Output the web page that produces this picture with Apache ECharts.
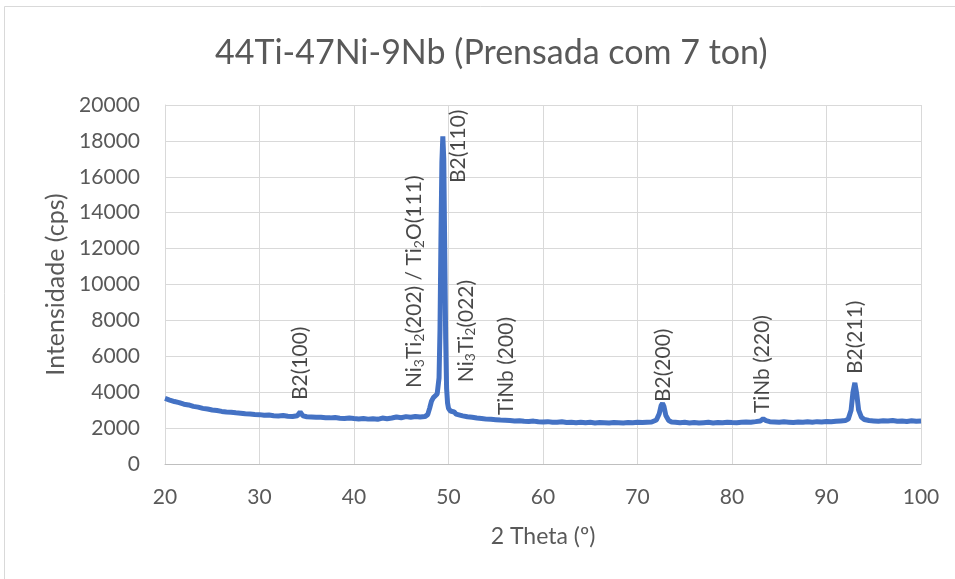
<!DOCTYPE html>
<html>
<head>
<meta charset="utf-8">
<script src="https://cdn.jsdelivr.net/npm/echarts@6/dist/echarts.min.js"></script>
<style>html,body{margin:0;padding:0;background:#fff}#c{width:955px;height:579px}</style>
</head>
<body>
<div id="c"></div>
<script>
var titleText = '44Ti-47Ni-9Nb (Prensada com 7 ton)';
var xName = '2 Theta (º)';
var yName = 'Intensidade (cps)';

var twoTheta = [
20.0,20.5,21.0,21.5,22.0,22.5,23.0,23.5,24.0,24.5,25.0,25.5,26.0,26.5,27.0,27.5,28.0,28.5,29.0,29.5,
30.0,30.5,31.0,31.5,32.0,32.5,33.0,33.5,34.0,34.3,34.6,35.0,35.5,36.0,36.5,37.0,37.5,38.0,38.5,39.0,39.5,
40.0,40.5,41.0,41.5,42.0,42.5,43.0,43.5,44.0,44.5,45.0,45.5,46.0,46.5,47.0,47.5,47.8,48.0,48.2,48.4,48.6,48.8,
49.0,49.1,49.2,49.3,49.4,49.5,49.6,49.7,49.8,49.9,50.0,50.2,50.4,50.6,50.8,51.0,51.5,52.0,52.5,53.0,53.5,54.0,54.5,
55.0,55.5,56.0,56.5,57.0,57.5,58.0,58.5,59.0,59.5,60.0,60.5,61.0,61.5,62.0,62.5,63.0,63.5,64.0,64.5,65.0,65.5,
66.0,66.5,67.0,67.5,68.0,68.5,69.0,69.5,70.0,70.5,71.0,71.5,72.0,72.3,72.5,72.65,72.8,73.0,73.3,73.6,74.0,74.5,
75.0,75.5,76.0,76.5,77.0,77.5,78.0,78.5,79.0,79.5,80.0,80.5,81.0,81.5,82.0,82.5,83.0,83.3,83.6,84.0,84.5,
85.0,85.5,86.0,86.5,87.0,87.5,88.0,88.5,89.0,89.5,90.0,90.5,91.0,91.5,92.0,92.3,92.6,92.8,93.0,93.2,93.4,93.7,
94.0,94.5,95.0,95.5,96.0,96.5,97.0,97.5,98.0,98.5,99.0,99.5,100.0
];
var intensity = [
3650,3560,3480,3420,3330,3290,3210,3170,3100,3060,3010,2980,2930,2900,2880,2850,2830,2800,2790,2760,
2750,2720,2730,2690,2680,2700,2660,2650,2690,2900,2680,2630,2620,2600,2610,2580,2570,2590,2550,2540,2560,
2530,2510,2530,2500,2520,2490,2560,2520,2560,2620,2580,2640,2600,2650,2620,2640,2750,3100,3500,3700,3750,3900,
4800,7500,12500,16800,18250,17000,12000,7000,4200,3400,3100,2950,3000,2900,2780,2750,2680,2630,2600,2560,2540,2500,2490,
2470,2450,2440,2420,2400,2410,2380,2370,2390,2350,2340,2360,2330,2320,2350,2310,2320,2300,2330,2300,2320,2290,
2310,2300,2280,2310,2300,2290,2310,2300,2320,2310,2330,2340,2450,2800,3250,3380,3200,2700,2420,2340,2330,2300,
2320,2290,2310,2280,2300,2320,2290,2310,2300,2330,2310,2300,2320,2340,2330,2360,2400,2520,2420,2360,2340,
2320,2350,2330,2310,2340,2320,2350,2330,2360,2340,2370,2350,2380,2400,2420,2500,3000,4000,4520,3900,3000,2600,
2480,2420,2400,2380,2410,2390,2420,2380,2400,2370,2410,2380,2390
];

var annoX = [34.3, 46.35, 51.0, 51.85, 56.1, 72.7, 83.2, 93.0];
var annoY = [3560, 4230, 15650, 4560, 2730, 3450, 2840, 5010];
var annoText = ['B2(100)', 'Ni{s|3}Ti{s|2}(202) / Ti{s|2}O(111)', 'B2(110)', 'Ni{s|3}Ti{s|2}(022)', 'TiNb (200)', 'B2(200)', 'TiNb (220)', 'B2(211)'];

var lineData = twoTheta.map(function (x, i) { return [x, intensity[i]]; });
var annoData = annoX.map(function (x, i) { return { value: [x, annoY[i]], name: annoText[i] }; });

var font = 'Lato, "Open Sans", sans-serif';
var chart = echarts.init(document.getElementById('c'), null, { renderer: 'canvas' });
chart.setOption({
  backgroundColor: '#ffffff',
  animation: false,
  graphic: [{
    type: 'rect', shape: { x: 4.5, y: 6.5, width: 1000, height: 1000 },
    style: { fill: 'none', stroke: '#d9d9d9', lineWidth: 1 }, silent: true
  }],
  title: {
    text: titleText, left: 210, top: 31,
    textStyle: { fontFamily: font, fontSize: 34, fontWeight: 'normal', color: '#595959' }
  },
  grid: { left: 165, right: 34, top: 105, bottom: 115, containLabel: false },
  xAxis: {
    type: 'value', min: 20, max: 100, interval: 10,
    name: xName, nameLocation: 'middle', nameGap: 61,
    nameTextStyle: { fontFamily: font, fontSize: 23, color: '#595959' },
    axisLine: { show: true, lineStyle: { color: '#bfbfbf', width: 1 } },
    axisTick: { show: false },
    axisLabel: { fontFamily: font, fontSize: 21, color: '#595959', margin: 23 },
    splitLine: { show: true, lineStyle: { color: '#d9d9d9', width: 1 } }
  },
  yAxis: {
    type: 'value', min: 0, max: 20000, interval: 2000,
    name: yName, nameLocation: 'middle', nameGap: 91,
    nameTextStyle: { fontFamily: font, fontSize: 25, color: '#595959' },
    axisLine: { show: true, lineStyle: { color: '#d9d9d9', width: 1 } },
    axisTick: { show: false },
    axisLabel: { fontFamily: font, fontSize: 21, color: '#595959', margin: 25,
      formatter: function (v) { return String(v); } },
    splitLine: { show: true, lineStyle: { color: '#d9d9d9', width: 1 } }
  },
  series: [{
    type: 'line', data: lineData, showSymbol: false, symbol: 'none',
    lineStyle: { color: '#4472c4', width: 5 }, z: 2
  }, {
    type: 'scatter', data: annoData, symbolSize: 0, silent: true, z: 5,
    label: {
      show: true, position: 'inside', rotate: 90, align: 'left', verticalAlign: 'middle',
      formatter: function (p) { return p.name; },
      fontFamily: font, fontSize: 21, color: '#1a1a1a',
      rich: { s: { fontFamily: font, fontSize: 14, color: '#1a1a1a', padding: [10, 0, 0, 0] } }
    }
  }]
});
</script>
</body>
</html>
